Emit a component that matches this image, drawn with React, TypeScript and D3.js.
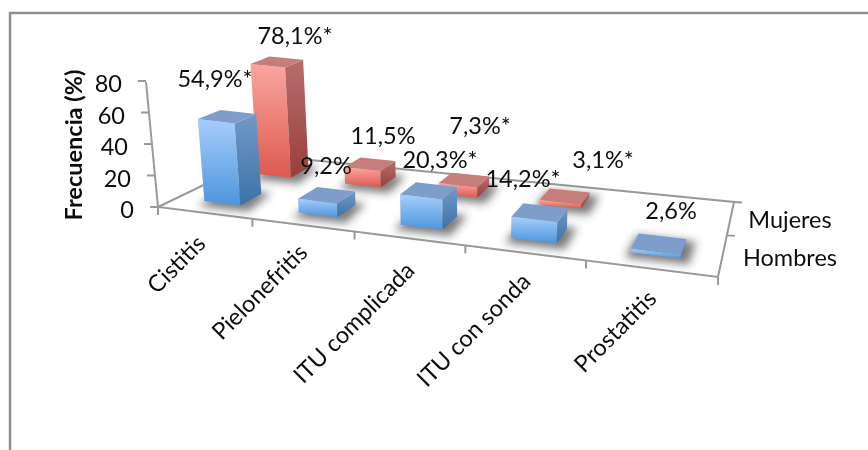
import React from 'react';
import * as d3 from 'd3';

const categories = ['Cistitis', 'Pielonefritis', 'ITU complicada', 'ITU con sonda', 'Prostatitis'];
const depthSeries = ['Hombres', 'Mujeres'];
const hombres = [54.9, 9.2, 20.3, 14.2, 2.6];
const mujeres = [78.1, 11.5, 7.3, 3.1, 0];
const hombresLabels = ['54,9%*', '9,2%', '20,3%*', '14,2%*', '2,6%'];
const mujeresLabels = ['78,1%*', '11,5%', '7,3%*', '3,1%*', ''];
const yTicks = [0, 20, 40, 60, 80];

// text placement of the value labels (centre x, baseline y)
const hombresLabelPos = [[215, 87], [326, 174], [440, 168], [523, 187], [671, 219]];
const mujeresLabelPos = [[295, 44], [383, 144], [480, 134], [603, 168], [0, 0]];
// placement of category labels (end of rotated text)
const catLabelEnd = [[207, 245], [309, 254], [416, 272], [532, 283], [658, 300]];

const FL = [158, 207], FR = [718, 277], BR = [734, 202], BL = [265, 155.5];

// homography unit square -> floor quad
function makeH() {
  const [x0, y0] = FL, [x1, y1] = FR, [x2, y2] = BR, [x3, y3] = BL;
  const dx1 = x1 - x2, dx2 = x3 - x2, sx = x0 - x1 + x2 - x3;
  const dy1 = y1 - y2, dy2 = y3 - y2, sy = y0 - y1 + y2 - y3;
  const den = dx1 * dy2 - dx2 * dy1;
  const g = (sx * dy2 - dx2 * sy) / den;
  const h = (dx1 * sy - sx * dy1) / den;
  const a = x1 - x0 + g * x1, b = x3 - x0 + h * x3, c = x0;
  const d = y1 - y0 + g * y1, e = y3 - y0 + h * y3, f = y0;
  return (u: number, v: number): [number, number] => {
    const w = g * u + h * v + 1;
    return [(a * u + b * v + c) / w, (d * u + e * v + f) / w];
  };
}
const floor = makeH();
const yScale = d3.scaleLinear().domain([0, 80]).range([0, 126]);
const project = (u: number, v: number, val = 0): [number, number] => {
  const [x, y] = floor(u, v);
  const hgt = yScale(val) * (1 - 0.13 * Math.sqrt(v));
  return [x + ((x - 470) * hgt) / 3300, y - hgt];
};
const uBand = d3.scaleBand<string>().domain(categories).range([0, 1]).paddingInner(0.61).paddingOuter(0.305);
const vBand = d3.scaleBand<string>().domain(depthSeries).range([0, 1]).paddingInner(0.61).paddingOuter(0.305);
const uStep = d3.scaleBand<string>().domain(categories).range([0, 1]);
const pts = (a: [number, number][]) => a.map(p => p.map(n => n.toFixed(1)).join(',')).join(' ');

const FONT = 'Lato, "Open Sans", sans-serif';
const AXIS = '#999999';

function Bar({ cat, series, value, tone }: { cat: string; series: string; value: number; tone: string }) {
  const u0 = uBand(cat)!, u1 = u0 + uBand.bandwidth();
  const v0 = vBand(series)!, v1 = v0 + vBand.bandwidth();
  const f0 = project(u0, v0), f1 = project(u1, v0), b1 = project(u1, v1), b0 = project(u0, v1);
  const t0 = project(u0, v0, value), t1 = project(u1, v0, value), t2 = project(u1, v1, value), t3 = project(u0, v1, value);
  const sh = (p: [number, number], dx: number, dy: number): [number, number] => [p[0] + dx, p[1] + dy];
  return (
    <g>
      <polygon points={pts([sh(f0, -6, 5), sh(f1, 8, 6), sh(b1, 10, -1), sh(b0, -2, -2)])} fill="#444" opacity={0.7} filter="url(#shadow)" />
      <polygon points={pts([f0, f1, t1, t0])} fill={`url(#${tone}Front)`} />
      <polygon points={pts([f1, b1, t2, t1])} fill={`url(#${tone}Side)`} />
      <polygon points={pts([t0, t1, t2, t3])} fill={`url(#${tone}Top)`} />
    </g>
  );
}

export default function App() {
  const ticksU = d3.range(categories.length + 1).map(i => (i === categories.length ? 1 : uStep(categories[i])!));
  const textStyle = { fontFamily: FONT, fontSize: 23.5, fill: '#111' } as const;
  return (
    <svg width={868} height={450} style={{ position: 'absolute', left: 0, top: 0, background: '#fff' }}>
      <defs>
        <filter id="soft" x="-5%" y="-5%" width="110%" height="110%"><feGaussianBlur stdDeviation="0.55" /></filter>
        <filter id="shadow" x="-50%" y="-50%" width="200%" height="200%"><feGaussianBlur stdDeviation="4.5" /></filter>
        {[
          ['blueFront', '#a6cdfb', '#4d96dc'],
          ['blueSide', '#7199c8', '#3d72a8'],
          ['blueTop', '#7f9dca', '#7f9dca'],
          ['redFront', '#fba5a1', '#dc5a4e'],
          ['redSide', '#b56f6d', '#993f3a'],
          ['redTop', '#c67d7b', '#c67d7b'],
        ].map(([id, a, b]) => (
          <linearGradient key={id} id={id} x1="0" y1="0" x2="0" y2="1">
            <stop offset="0" stopColor={a} />
            <stop offset="1" stopColor={b} />
          </linearGradient>
        ))}
      </defs>
      <g filter="url(#soft)">
        <path d="M10,450V13H868" fill="none" stroke="#8f8f8f" strokeWidth={2.4} />

        {/* floor and axes */}
        <polyline points={pts([BL as any, FL as any, FR as any, BR as any, BL as any])} fill="none" stroke={AXIS} strokeWidth={2} />
        <line x1={FL[0]} y1={FL[1]} x2={146} y2={82} stroke={AXIS} strokeWidth={2} />
        {yTicks.map(t => {
          const [x, y] = [FL[0] - (12 * t) / 80, FL[1] - yScale(t)];
          return (
            <g key={t}>
              <line x1={x} y1={y} x2={x - 8} y2={y} stroke={AXIS} strokeWidth={2} />
              <text x={x - 24} y={y + 11} textAnchor="end" style={textStyle}>{t}</text>
            </g>
          );
        })}
        {ticksU.map((u, i) => {
          const [x, y] = floor(u, 0);
          return <line key={i} x1={x} y1={y} x2={x} y2={y + 8} stroke={AXIS} strokeWidth={2} />;
        })}
        {[0.5, 1].map(v => {
          const [x, y] = floor(1, v);
          return <line key={v} x1={x} y1={y} x2={x + 8} y2={y + 0.5} stroke={AXIS} strokeWidth={2} />;
        })}

        {/* bars, back row first */}
        {categories.map((c, i) => mujeres[i] > 0 && <Bar key={c} cat={c} series="Mujeres" value={mujeres[i]} tone="red" />)}
        {categories.map((c, i) => <Bar key={c} cat={c} series="Hombres" value={hombres[i]} tone="blue" />)}

        {/* labels */}
        {mujeresLabels.map((l, i) => l && <text key={l} x={mujeresLabelPos[i][0]} y={mujeresLabelPos[i][1]} textAnchor="middle" style={textStyle}>{l}</text>)}
        {hombresLabels.map((l, i) => <text key={l} x={hombresLabelPos[i][0]} y={hombresLabelPos[i][1]} textAnchor="middle" style={textStyle}>{l}</text>)}

        {categories.map((c, i) => (
          <text key={c} textAnchor="end" transform={`translate(${catLabelEnd[i][0]},${catLabelEnd[i][1]}) rotate(-45)`} style={textStyle}>{c}</text>
        ))}

        <text x={790} y={228} textAnchor="middle" style={textStyle}>Mujeres</text>
        <text x={790} y={266} textAnchor="middle" style={textStyle}>Hombres</text>

        <text transform="translate(82,145) rotate(-90)" textAnchor="middle" style={{ ...textStyle, fontSize: 23.5, fontWeight: 700 }}>Frecuencia (%)</text>
      </g>
    </svg>
  );
}
